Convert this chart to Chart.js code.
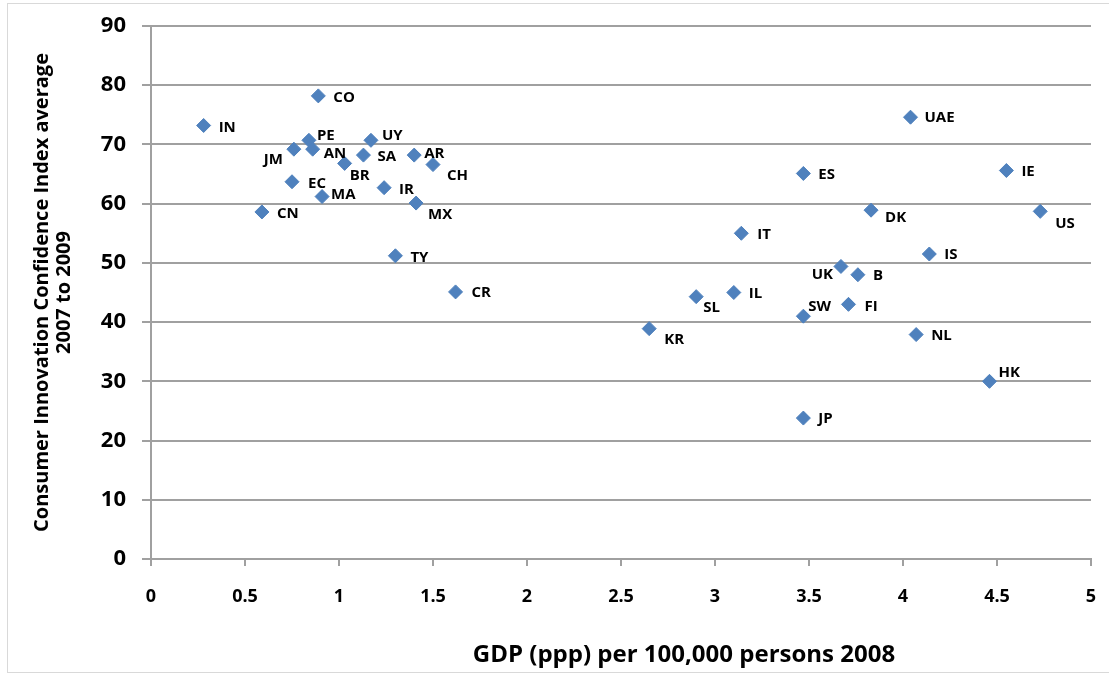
<!DOCTYPE html>
<html>
<head>
<meta charset="utf-8">
<script src="https://cdn.jsdelivr.net/npm/chart.js@4/dist/chart.umd.min.js"></script>
<style>
  html, body { margin: 0; padding: 0; background: #fff; }
  #wrap { width: 1109px; height: 674px; position: relative; }
</style>
</head>
<body>
<div id="wrap"><canvas id="chart"></canvas></div>
<script>
// country codes, GDP (ppp) per 100,000 persons 2008, CICI average 2007-2009
var codes = ['IN','CO','PE','UY','JM','AN','SA','AR','BR','CH','EC','IR','MA','MX','CN','TY','CR',
             'UAE','ES','IE','DK','US','IT','IS','UK','B','SL','IL','FI','SW','KR','NL','HK','JP'];
var gdp = [0.28, 0.89, 0.84, 1.17, 0.76, 0.86, 1.13, 1.40, 1.03, 1.50, 0.75, 1.24, 0.91, 1.41, 0.59, 1.30, 1.62,
           4.04, 3.47, 4.55, 3.83, 4.73, 3.14, 4.14, 3.67, 3.76, 2.90, 3.10, 3.71, 3.47, 2.65, 4.07, 4.46, 3.47];
var cci = [73.2, 78.2, 70.7, 70.7, 69.2, 69.2, 68.2, 68.2, 66.8, 66.6, 63.7, 62.7, 61.2, 60.1, 58.6, 51.2, 45.1,
           74.6, 65.1, 65.6, 58.9, 58.7, 55.0, 51.5, 49.4, 48.0, 44.3, 45.0, 43.0, 41.0, 38.9, 37.9, 30.0, 23.8];
var xTicks = [0, 0.5, 1, 1.5, 2, 2.5, 3, 3.5, 4, 4.5, 5];
var yTicks = [0, 10, 20, 30, 40, 50, 60, 70, 80, 90];
var xTitle = 'GDP (ppp) per 100,000 persons 2008';
var yTitle = ['Consumer Innovation Confidence Index average', '2007 to 2009'];

// where each label sits relative to its diamond (px); r = right aligned
var labelOffsets = {
  IN:[15,2], CO:[15,2], PE:[8,-5], UY:[11,-5], JM:[-11,11,'r'], AN:[11,5], SA:[14,2], AR:[10,-1],
  BR:[5,12], CH:[14,11], EC:[16,2], IR:[15,2], MA:[9,-2], MX:[12,12], CN:[15,2], TY:[15,2], CR:[16,1],
  UAE:[14,1], ES:[15,1], IE:[15,1], DK:[14,8], US:[15,12], IT:[16,1], IS:[15,1], UK:[-8,8,'r'], B:[15,1],
  SL:[7,11], IL:[15,1], FI:[16,2], SW:[5,-9], KR:[15,11], NL:[15,1], HK:[9,-9], JP:[15,1]
};

var points = [];
for (var i = 0; i < codes.length; i++) {
  points.push({x: gdp[i], y: cci[i]});
}

var gridColor = '#a0a0a0';
var font = "'Open Sans', 'DejaVu Sans', sans-serif";

var extras = {
  id: 'extras',
  beforeDraw: function(chart) {
    var ctx = chart.ctx;
    ctx.save();
    ctx.fillStyle = '#fff';
    ctx.fillRect(0, 0, chart.width, chart.height);
    ctx.strokeStyle = '#d9d9d9';
    ctx.lineWidth = 1;
    ctx.strokeRect(7.5, 3.5, 1110, 669);
    ctx.restore();
  },
  afterDatasetsDraw: function(chart) {
    var ctx = chart.ctx;
    var meta = chart.getDatasetMeta(0);
    ctx.save();
    ctx.font = 'bold 15px ' + font;
    ctx.fillStyle = '#000';
    ctx.textBaseline = 'middle';
    meta.data.forEach(function(pt, i) {
      var off = labelOffsets[codes[i]] || [15, 1];
      ctx.textAlign = off[2] === 'r' ? 'right' : 'left';
      ctx.fillText(codes[i], pt.x + off[0], pt.y + off[1]);
    });
    ctx.font = 'bold 24px ' + font;
    ctx.textAlign = 'center';
    ctx.fillText(xTitle, 684, 655);
    ctx.restore();
  }
};

new Chart(document.getElementById('chart'), {
  type: 'scatter',
  data: {
    datasets: [{
      data: points,
      pointStyle: 'rectRot',
      pointRadius: 7,
      pointHoverRadius: 7,
      backgroundColor: '#4f81bd',
      borderColor: '#4f81bd',
      borderWidth: 1
    }]
  },
  options: {
    responsive: true,
    maintainAspectRatio: false,
    animation: false,
    layout: { padding: { left: 0, top: 26, right: 18, bottom: 0 } },
    plugins: { legend: { display: false }, tooltip: { enabled: false } },
    scales: {
      x: {
        type: 'linear',
        min: 0,
        max: 5,
        afterBuildTicks: function(scale) {
          scale.ticks = xTicks.map(function(v) { return {value: v}; });
        },
        afterFit: function(scale) {
          scale.height = 115;
          scale.paddingLeft = 0;
          scale.paddingRight = 0;
        },
        grid: { drawOnChartArea: false, drawTicks: true, tickLength: 7, color: gridColor, lineWidth: 2 },
        border: { color: gridColor, width: 2 },
        ticks: {
          color: '#000',
          padding: 20,
          maxRotation: 0,
          font: { family: font, weight: 'bold', size: 18 },
          callback: function(v) { return String(v); }
        }
      },
      y: {
        type: 'linear',
        min: 0,
        max: 90,
        afterBuildTicks: function(scale) {
          scale.ticks = yTicks.map(function(v) { return {value: v}; });
        },
        afterFit: function(scale) {
          scale.width = 151;
          scale.paddingTop = 0;
          scale.paddingBottom = 0;
        },
        grid: { color: gridColor, lineWidth: 2, tickLength: 9 },
        border: { color: gridColor, width: 2 },
        ticks: {
          color: '#000',
          padding: 16,
          font: { family: font, weight: 'bold', size: 22 }
        },
        title: {
          display: true,
          text: yTitle,
          color: '#000',
          padding: { top: 31, bottom: 0 },
          font: { family: font, weight: 'bold', size: 20, lineHeight: 1.1 }
        }
      }
    }
  },
  plugins: [extras]
});
</script>
</body>
</html>
